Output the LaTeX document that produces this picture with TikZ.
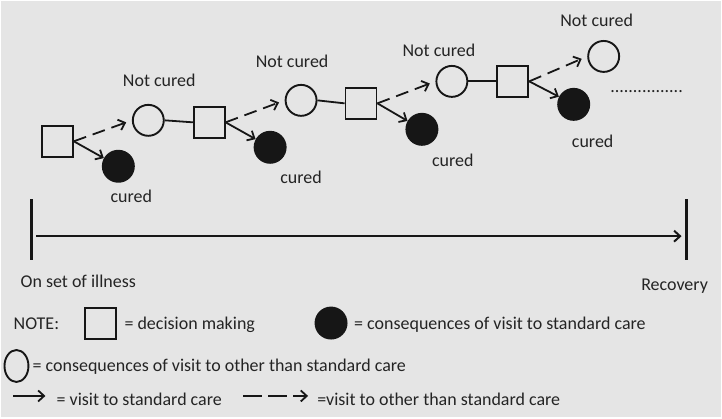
\documentclass[tikz,border=0pt]{standalone}
\usepackage{fontspec}
\setmainfont{Carlito}
\usetikzlibrary{arrows.meta,shapes.geometric}
\definecolor{bg}{RGB}{229,229,229}
\definecolor{ink}{RGB}{22,22,22}
\definecolor{txt}{RGB}{36,36,36}
\begin{document}
\begin{tikzpicture}[x=1pt,y=-1pt,
  font=\fontsize{18}{21}\selectfont,
  every node/.style={text=txt},
  decbox/.style={draw=ink,line width=1.9pt,minimum width=31pt,minimum height=31pt,inner sep=0pt},
  stdc/.style={circle,fill=ink,minimum size=33pt,inner sep=0pt},
  othc/.style={circle,draw=ink,line width=1.9pt,minimum size=31pt,inner sep=0pt},
  lbl/.style={anchor=base,inner sep=0pt},
  lgd/.style={anchor=base west,inner sep=0pt},
  stdarrow/.style={draw=ink,line width=1.8pt,-{Straight Barb[length=6pt,width=11pt]}},
  othcarrow/.style={stdarrow,dash pattern=on 13pt off 7pt,shorten >=6pt},
  link/.style={draw=ink,line width=1.8pt},
  tick/.style={draw=ink,line width=2.6pt}]
\path[fill=bg,draw=white,line width=1pt] (0,0) rectangle (722,418);
\useasboundingbox (0,0) rectangle (722,418);

% decision chain
\node[decbox] (s1) at (57,141) {};
\node[stdc]   (f1) at (118,166) {};
\node[othc]   (o1) at (148,120) {};
\node[decbox] (s2) at (209,122) {};
\node[othc]   (o2) at (301,100) {};
\node[stdc]   (f2) at (270,147) {};
\node[decbox] (s3) at (361,103) {};
\node[othc]   (o3) at (452,81) {};
\node[stdc]   (f3) at (422,129) {};
\node[decbox] (s4) at (513,81) {};
\node[othc]   (o4) at (604,56) {};
\node[stdc]   (f4) at (574,104) {};

\draw[othcarrow] (s1.east) -- (o1.west);
\draw[stdarrow]  (s1.east) -- (f1);
\draw[link] (o1.east) -- (s2.west);
\draw[othcarrow] (s2.east) -- (o2.west);
\draw[stdarrow]  (s2.east) -- (f2);
\draw[link] (o2.east) -- (s3.west);
\draw[othcarrow] (s3.east) -- (o3.west);
\draw[stdarrow]  (s3.east) -- (f3);
\draw[link] (o3.east) -- (s4.west);
\draw[othcarrow] (s4.east) -- (o4.west);
\draw[stdarrow]  (s4.east) -- (f4);

\node[lbl] (n1) at (159,86) {Not cured};
\node[lbl] (n2) at (292,67) {Not cured};
\node[lbl] (n3) at (439,56) {Not cured};
\node[lbl] (n4) at (597,26) {Not cured};
\node[lbl] (c1) at (131,202) {cured};
\node[lbl] (c2) at (301,183) {cured};
\node[lbl] (c3) at (453,166) {cured};
\node[lbl] (c4) at (593,147) {cured};
\node[lbl] (dots) at (647,92) {................};

% time line
\coordinate (lt) at (31,199);
\coordinate (lb) at (31,260);
\coordinate (rt) at (687,199);
\coordinate (rb) at (687,260);
\coordinate (as) at (36,236);
\coordinate (ae) at (682,236);
\draw[tick] (lt) -- (lb);
\draw[tick] (rt) -- (rb);
\draw[stdarrow,line width=2pt] (as) -- (ae);
\node[lgd] (onset) at (20,287) {On set of illness};
\node[lbl] (recov) at (675,290) {Recovery};

% legend
\node[lgd] (note) at (13,329) {NOTE:};
\node[draw=ink,line width=1.9pt,minimum width=31pt,minimum height=31pt,inner sep=0pt] (ls) at (100,323.5) {};
\node[lgd] (ltxt1) at (124,329) {= decision making};
\node[stdc] (lf) at (331,323) {};
\node[lgd] (ltxt2) at (354,329) {= consequences of visit to standard care};
\node[ellipse,draw=ink,line width=1.9pt,minimum width=24pt,minimum height=32pt,inner sep=0pt] (lo) at (16,366) {};
\node[lgd] (ltxt3) at (32,372) {= consequences of visit to other than standard care};
\coordinate (la1) at (13,396);
\coordinate (la2) at (45,396);
\draw[stdarrow] (la1) -- (la2);
\node[lgd] (ltxt4) at (56,406) {= visit to standard care};
\coordinate (lb1) at (243,396);
\coordinate (lb2) at (308,396);
\draw[stdarrow,dash pattern=on 19pt off 6pt] (lb1) -- (lb2);
\node[lgd] (ltxt5) at (317,406) {=visit to other than standard care};
\end{tikzpicture}
\end{document}
